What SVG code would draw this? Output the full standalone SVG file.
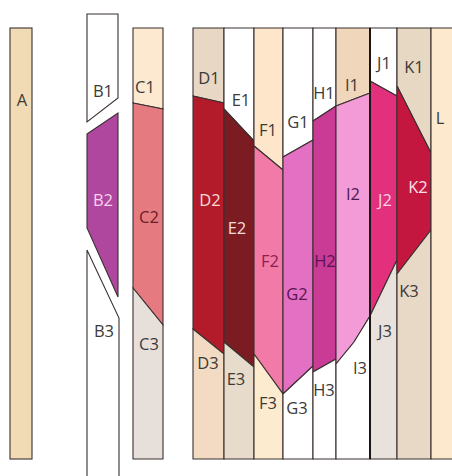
<svg xmlns="http://www.w3.org/2000/svg" width="452" height="476" viewBox="0 0 452 476">
<style>
polygon,rect{stroke:#3a3030;stroke-width:1.1;stroke-linejoin:miter}
text{font-family:"Open Sans","Noto Sans","Liberation Sans",sans-serif;font-size:16.5px;text-anchor:middle;fill:#3c3a38}
</style>
<g id="A"><rect x="10" y="28" width="22" height="431" fill="#f1dbb5"/><text x="22" y="106">A</text></g>
<g id="B1"><polygon points="87,14 118,14 118,98 87,122" fill="#ffffff"/><text x="103" y="97">B1</text></g>
<g id="B2"><polygon points="87,134 118,113 118,297 87,228" fill="#b0479f"/><text x="103" y="206" style="fill:#f6d3ef">B2</text></g>
<g id="B3"><polygon points="87,250 119,318 119,480 87,480" fill="#ffffff"/><text x="104" y="337">B3</text></g>
<g id="C1"><polygon points="133,28 163,28 163,109 133,103" fill="#fde8d0"/><text x="145" y="93">C1</text></g>
<g id="C2"><polygon points="133,103 163,109 163,325 133,288" fill="#e57a80"/><text x="149" y="223" style="fill:#6b1d25">C2</text></g>
<g id="C3"><polygon points="133,288 163,325 163,459 133,459" fill="#e7e0da"/><text x="149" y="350">C3</text></g>
<g id="D1"><polygon points="193,28 224,28 224,103 193,96" fill="#e7d7c4"/><text x="209" y="84">D1</text></g>
<g id="D2"><polygon points="193,96 224,103 224,354 193,329" fill="#b31b2b"/><text x="210" y="206" style="fill:#f7dbd3">D2</text></g>
<g id="D3"><polygon points="193,329 224,354 224,459 193,459" fill="#f3dac3"/><text x="208" y="369">D3</text></g>
<g id="E1"><polygon points="224,28 254,28 254,141 224,109" fill="#ffffff"/><text x="241" y="106">E1</text></g>
<g id="E2"><polygon points="224,109 254,141 254,367 224,342" fill="#7b1b22"/><text x="237" y="234" style="fill:#f3dfda">E2</text></g>
<g id="E3"><polygon points="224,342 254,367 254,459 224,459" fill="#e7dccb"/><text x="236" y="385">E3</text></g>
<g id="F1"><polygon points="254,28 283,28 283,170 254,146" fill="#fde6c9"/><text x="268" y="136">F1</text></g>
<g id="F2"><polygon points="254,146 283,170 283,394 254,354" fill="#f27aa6"/><text x="270" y="267" style="fill:#8c1f52">F2</text></g>
<g id="F3"><polygon points="254,354 283,394 283,459 254,459" fill="#fdebd0"/><text x="268" y="409">F3</text></g>
<g id="G1"><polygon points="283,28 313,28 313,140 283,157" fill="#ffffff"/><text x="298" y="128">G1</text></g>
<g id="G2"><polygon points="283,157 313,140 313,366 283,394" fill="#e370c3"/><text x="297" y="300" style="fill:#5a1450">G2</text></g>
<g id="G3"><polygon points="283,394 313,366 313,459 283,459" fill="#ffffff"/><text x="297" y="414">G3</text></g>
<g id="H1"><polygon points="313,28 336,28 336,106 313,121" fill="#ffffff"/><text x="324" y="99">H1</text></g>
<g id="H2"><polygon points="313,121 336,106 336,359 313,372" fill="#c93b95"/><text x="325" y="267" style="fill:#5a1450">H2</text></g>
<g id="H3"><polygon points="313,372 336,359 336,459 313,459" fill="#ffffff"/><text x="324" y="396">H3</text></g>
<g id="I1"><polygon points="336,28 370,28 370,93 336,106" fill="#f0d6bb"/><text x="352" y="91">I1</text></g>
<g id="I2"><polygon points="336,106 370,93 370,316 354,342 336,364" fill="#f29bd6"/><text x="353" y="200" style="fill:#4a1a50">I2</text></g>
<g id="I3"><polygon points="336,364 354,342 370,316 370,459 336,459" fill="#ffffff"/><text x="360" y="374">I3</text></g>
<g id="J1"><polygon points="370,28 397,28 397,96 370,81" fill="#ffffff"/><text x="384" y="69">J1</text></g>
<g id="J2"><polygon points="370,81 397,96 397,260 370,316" fill="#e2307c"/><text x="385" y="206" style="fill:#fbd0e6">J2</text></g>
<g id="J3"><polygon points="370,316 397,260 397,459 370,459" fill="#e9e2dc"/><text x="385" y="337">J3</text></g>
<g id="K1"><polygon points="397,28 431,28 431,153 397,86" fill="#e7d8c3"/><text x="414" y="73">K1</text></g>
<g id="K2"><polygon points="397,86 431,153 431,230 397,274" fill="#c4173f"/><text x="418" y="193" style="fill:#fbe0ea">K2</text></g>
<g id="K3"><polygon points="397,274 431,230 431,459 397,459" fill="#e7d9c6"/><text x="409" y="297">K3</text></g>
<g id="L"><polygon points="431,28 454,28 454,459 431,459" fill="#fde9cd"/><text x="440" y="124">L</text></g>
<line x1="370" y1="28" x2="370" y2="459" stroke="#1a1414" stroke-width="2"/>
<g id="connectors"/>
</svg>
